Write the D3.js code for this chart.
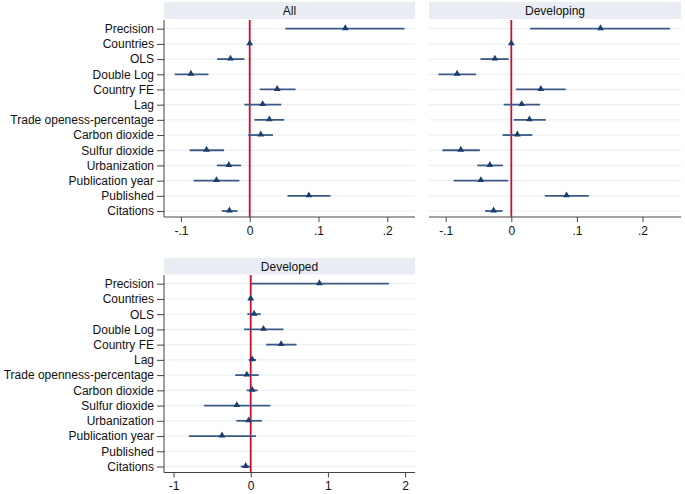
<!DOCTYPE html>
<html>
<head>
<meta charset="utf-8">
<script src="https://cdn.jsdelivr.net/npm/d3@7"></script>
<style>
  html, body { margin: 0; padding: 0; background: #fff; }
  svg { display: block; font-family: "Liberation Sans", Arial, sans-serif; }
</style>
</head>
<body>
<svg id="chart" width="685" height="494"></svg>
<script>
const categories = ["Precision","Countries","OLS","Double Log","Country FE","Lag",
  "Trade openess-percentage","Carbon dioxide","Sulfur dioxide","Urbanization",
  "Publication year","Published","Citations"];
const categoriesDeveloped = ["Precision","Countries","OLS","Double Log","Country FE","Lag",
  "Trade openness-percentage","Carbon dioxide","Sulfur dioxide","Urbanization",
  "Publication year","Published","Citations"];

// All
const allEst  = [0.139, 0, -0.028, -0.0855, 0.040, 0.0188, 0.0285, 0.016, -0.0628, -0.0304, -0.0483, 0.086, -0.0295];
const allLow  = [0.0517, -0.0008, -0.0473, -0.109, 0.0145, -0.0077, 0.0068, -0.002, -0.0874, -0.0478, -0.0816, 0.055, -0.0406];
const allHigh = [0.225, 0.0008, -0.0077, -0.060, 0.0667, 0.0459, 0.0502, 0.0338, -0.0372, -0.0126, -0.015, 0.1174, -0.0179];

// Developing
const devgEst  = [0.136, 0, -0.025, -0.0827, 0.045, 0.0158, 0.0276, 0.0092, -0.077, -0.0327, -0.0464, 0.0842, -0.027];
const devgLow  = [0.0286, -0.0008, -0.047, -0.111, 0.007, -0.0117, 0.0036, -0.0133, -0.105, -0.052, -0.088, 0.051, -0.040];
const devgHigh = [0.242, 0.0008, -0.004, -0.0536, 0.083, 0.0439, 0.0526, 0.032, -0.048, -0.0128, -0.0046, 0.118, -0.0133];

// Developed (Published not estimated)
const devdEst  = [0.89, 0, 0.043, 0.165, 0.394, 0.02, -0.05, 0.02, -0.18, -0.026, -0.372, null, -0.065];
const devdLow  = [0.0, -0.01, -0.043, -0.087, 0.20, -0.026, -0.20, -0.05, -0.606, -0.186, -0.80, null, -0.13];
const devdHigh = [1.79, 0.01, 0.13, 0.424, 0.593, 0.07, 0.104, 0.09, 0.255, 0.143, 0.069, null, -0.009];

const ticksSmall = [-0.1, 0, 0.1, 0.2];
const tickLabelsSmall = ["-.1", "0", ".1", ".2"];
const ticksLarge = [-1, 0, 1, 2];
const tickLabelsLarge = ["-1", "0", "1", "2"];

const panels = [
  { title: "All", cats: categories, est: allEst, low: allLow, high: allHigh,
    x0: 164, x1: 415, hTop: 2, hBot: 19, pTop: 20, pBot: 217,
    domain: [-0.1246, 0.2403], ticks: ticksSmall, tickLabels: tickLabelsSmall, showY: true },
  { title: "Developing", cats: categories, est: devgEst, low: devgLow, high: devgHigh,
    x0: 429, x1: 681, hTop: 2, hBot: 19, pTop: 20, pBot: 217,
    domain: [-0.1255, 0.2587], ticks: ticksSmall, tickLabels: tickLabelsSmall, showY: false },
  { title: "Developed", cats: categoriesDeveloped, est: devdEst, low: devdLow, high: devdHigh,
    x0: 164, x1: 415, hTop: 258, hBot: 274.5, pTop: 275, pBot: 472.5,
    domain: [-1.123, 2.128], ticks: ticksLarge, tickLabels: tickLabelsLarge, showY: true }
];

const svg = d3.select("#chart");
const ciColor = "#3d5a85";
const markColor = "#1a3f6f";
const gridColor = "#e7eef0";
const axisColor = "#444";
const fs = 12;

panels.forEach(p => {
  const g = svg.append("g");
  const x = d3.scaleLinear().domain(p.domain).range([p.x0, p.x1]);
  const y = d3.scalePoint().domain(p.cats).range([p.pTop + 8.7, p.pBot - 6]);

  // header band
  g.append("rect").attr("x", p.x0).attr("y", p.hTop)
    .attr("width", p.x1 - p.x0).attr("height", p.hBot - p.hTop)
    .attr("fill", "#eaeef4");
  g.append("text").attr("x", (p.x0 + p.x1) / 2).attr("y", (p.hTop + p.hBot) / 2 + 0.5)
    .attr("text-anchor", "middle").attr("dominant-baseline", "central")
    .attr("font-size", fs).attr("fill", "#111").text(p.title);

  // gridlines
  g.append("g").selectAll("line").data(p.cats).join("line")
    .attr("x1", p.x0).attr("x2", p.x1)
    .attr("y1", d => y(d)).attr("y2", d => y(d))
    .attr("stroke", gridColor).attr("stroke-width", 1);

  // x axis
  const xAxis = d3.axisBottom(x).tickValues(p.ticks)
    .tickFormat((d, i) => p.tickLabels[i]).tickSize(5).tickPadding(4).tickSizeOuter(0);
  const ax = g.append("g").attr("transform", `translate(0,${p.pBot})`).call(xAxis);
  ax.select(".domain").attr("stroke", axisColor).attr("d", `M${p.x0},0H${p.x1}`);
  ax.selectAll(".tick line").attr("stroke", axisColor);
  ax.selectAll(".tick text").attr("font-size", fs).attr("fill", "#111")
    .attr("font-family", "Liberation Sans, Arial, sans-serif");

  // y axis
  if (p.showY) {
    const yAxis = d3.axisLeft(y).tickSize(7).tickPadding(3).tickSizeOuter(0);
    const ay = g.append("g").attr("transform", `translate(${p.x0},0)`).call(yAxis);
    ay.select(".domain").attr("stroke", axisColor).attr("d", `M0,${p.pTop}V${p.pBot}`);
    ay.selectAll(".tick line").attr("stroke", axisColor);
    ay.selectAll(".tick text").attr("font-size", fs).attr("fill", "#111")
      .attr("font-family", "Liberation Sans, Arial, sans-serif");
  }

  // zero line
  g.append("line").attr("x1", x(0)).attr("x2", x(0))
    .attr("y1", p.pTop).attr("y2", p.pBot)
    .attr("stroke", "#c8102e").attr("stroke-width", 1.8);

  const rows = p.cats.map((c, i) => ({ c, est: p.est[i], lo: p.low[i], hi: p.high[i] }))
    .filter(d => d.est !== null);

  g.append("g").selectAll("line").data(rows).join("line")
    .attr("x1", d => x(d.lo)).attr("x2", d => x(d.hi))
    .attr("y1", d => y(d.c)).attr("y2", d => y(d.c))
    .attr("stroke", ciColor).attr("stroke-width", 1.8);

  g.append("g").selectAll("path").data(rows).join("path")
    .attr("d", d3.symbol().type(d3.symbolTriangle).size(20))
    .attr("transform", d => `translate(${x(d.est)},${y(d.c) - 0.5})`)
    .attr("fill", markColor);
});
</script>
</body>
</html>
